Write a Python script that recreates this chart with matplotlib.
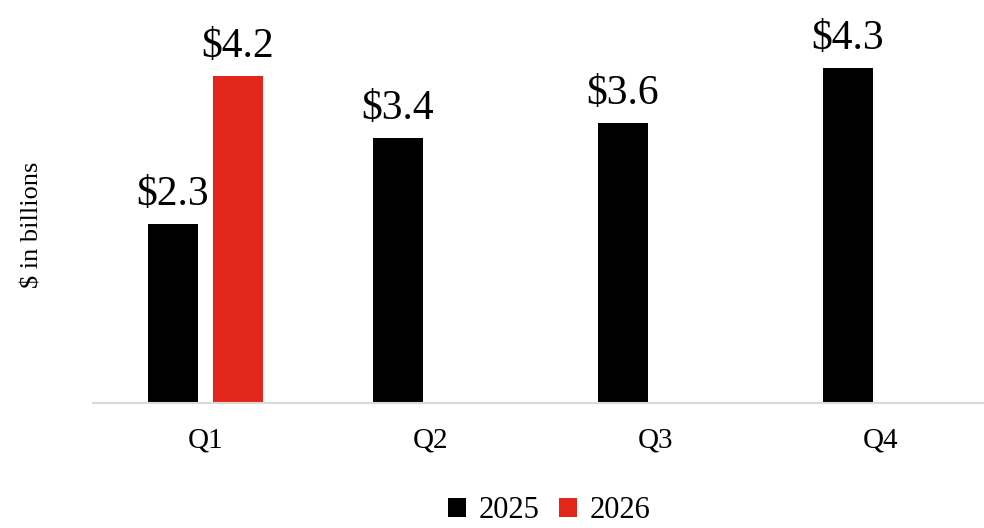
import matplotlib
matplotlib.use("Agg")
import matplotlib.pyplot as plt
import numpy as np

categories = ["Q1", "Q2", "Q3", "Q4"]
series_names = ["2025", "2026"]
values_2025 = [2.3, 3.4, 3.6, 4.3]
values_2026 = [4.2, None, None, None]
colors = ["#000000", "#e2261c"]

plt.rcParams['font.family'] = ['Liberation Serif', 'DejaVu Serif']

fig = plt.figure(figsize=(9.84, 5.28), dpi=100)
W, H = 984, 528
left, right, bottom, top = 93, 984, 403, 13.5
ax = fig.add_axes([left / W, (H - bottom) / H, (right - left) / W, (bottom - top) / H])

x = np.arange(len(categories))
width = 0.222
off = 0.1444

def lab(v):
    return f"${v:.1f}"

for i, v in enumerate(values_2025):
    ax.bar(x[i] - off, v, width, color=colors[0], label=series_names[0] if i == 0 else None)
    ax.annotate(lab(v), (x[i] - off, v), xytext=(0, 7), textcoords="offset points",
                ha="center", va="bottom", fontsize=30)
for i, v in enumerate(values_2026):
    if v is None:
        continue
    ax.bar(x[i] + off, v, width, color=colors[1], label=series_names[1] if i == 0 else None)
    ax.annotate(lab(v), (x[i] + off, v), xytext=(0, 7), textcoords="offset points",
                ha="center", va="bottom", fontsize=30)

ax.set_xlim(-0.5, (984 - 205.5) / 225)
ax.set_ylim(0, 5)
ax.set_xticks(x)
ax.set_xticklabels(categories, fontsize=21)
ax.tick_params(axis="x", length=0, pad=18)
ax.set_yticks([])
for s in ["top", "right", "left"]:
    ax.spines[s].set_visible(False)
ax.spines["bottom"].set_color("#d9d9d9")
ax.spines["bottom"].set_linewidth(1.5)

fig.text(33 / W, 1 - 225 / H, "$ in billions", rotation=90, ha="center", va="center", fontsize=19)

handles, labels = ax.get_legend_handles_labels()
fig.legend(handles, labels, loc="center", bbox_to_anchor=(549 / W, 1 - 511 / H), ncol=2,
           frameon=False, fontsize=22, handlelength=0.6, handleheight=0.6,
           handletextpad=0.4, columnspacing=0.65, borderpad=0.1)

fig.savefig("out.png", dpi=100)
